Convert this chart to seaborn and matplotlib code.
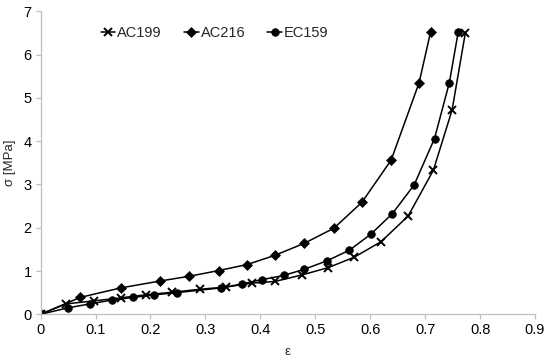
import pandas as pd
import matplotlib
matplotlib.use("Agg")
import matplotlib.pyplot as plt
import seaborn as sns

# valores
ac199_eps = [0, 0.046, 0.097, 0.146, 0.191, 0.240, 0.291, 0.338, 0.385, 0.427, 0.476, 0.524, 0.571, 0.620, 0.669, 0.715, 0.749, 0.773]
ac199_sig = [0, 0.24, 0.31, 0.38, 0.45, 0.51, 0.58, 0.63, 0.72, 0.76, 0.91, 1.08, 1.32, 1.68, 2.27, 3.33, 4.72, 6.49]

ac216_eps = [0, 0.072, 0.146, 0.218, 0.271, 0.324, 0.376, 0.426, 0.480, 0.534, 0.585, 0.638, 0.689, 0.710]
ac216_sig = [0, 0.39, 0.61, 0.77, 0.88, 1.01, 1.15, 1.36, 1.64, 1.99, 2.59, 3.56, 5.35, 6.53]

ec159_eps = [0, 0.050, 0.090, 0.130, 0.169, 0.207, 0.248, 0.328, 0.366, 0.403, 0.443, 0.480, 0.522, 0.562, 0.601, 0.640, 0.680, 0.717, 0.744, 0.760]
ec159_sig = [0, 0.15, 0.24, 0.33, 0.39, 0.45, 0.50, 0.61, 0.70, 0.80, 0.90, 1.04, 1.24, 1.48, 1.85, 2.32, 2.99, 4.06, 5.35, 6.51]

amostras = ["AC199", "AC216", "EC159"]
marcadores = {"AC199": "x", "AC216": "D", "EC159": "o"}

df = pd.concat([
    pd.DataFrame({"eps": ac199_eps, "sig": ac199_sig, "amostra": "AC199"}),
    pd.DataFrame({"eps": ac216_eps, "sig": ac216_sig, "amostra": "AC216"}),
    pd.DataFrame({"eps": ec159_eps, "sig": ec159_sig, "amostra": "EC159"}),
])

sns.set_style("white")
plt.rcParams["font.family"] = ["Liberation Sans", "DejaVu Sans"]

fig = plt.figure(figsize=(5.5, 3.57), dpi=100)
ax = fig.add_axes([0.0738, 0.1196, 0.899, 0.8488])

for nome in amostras:
    m = marcadores[nome]
    sns.lineplot(data=df[df["amostra"] == nome], x="eps", y="sig", color="black",
                 marker=m, markersize=5.5 if m == "x" else (5.2 if m == "D" else 5.5),
                 markeredgewidth=1.4 if m == "x" else 0.5, markeredgecolor="black",
                 linewidth=1.1, label=nome, ax=ax)

ax.set_xlim(0, 0.9)
ax.set_ylim(0, 7)
ax.set_xticks([0, 0.1, 0.2, 0.3, 0.4, 0.5, 0.6, 0.7, 0.8, 0.9])
ax.set_xticklabels(["0", "0.1", "0.2", "0.3", "0.4", "0.5", "0.6", "0.7", "0.8", "0.9"])
ax.set_yticks(range(8))
ax.set_xlabel("ε", fontsize=9.5, labelpad=6)
ax.set_ylabel("σ [MPa]", fontsize=9.5, labelpad=5)

for lado in ["top", "right"]:
    ax.spines[lado].set_visible(False)
for lado in ["left", "bottom"]:
    ax.spines[lado].set_color("#bfbfbf")
    ax.spines[lado].set_linewidth(0.9)
ax.tick_params(axis="both", colors="#bfbfbf", length=3.5, width=0.9, direction="out",
               labelsize=10.5, labelcolor="black", left=True, bottom=True, pad=3)

leg = ax.legend(ncol=3, frameon=False, loc="center left",
                bbox_to_anchor=(0.095, 0.928), fontsize=10.5,
                handlelength=1.0, handletextpad=0.15, columnspacing=1.5)

fig.savefig("out.png", dpi=100)
